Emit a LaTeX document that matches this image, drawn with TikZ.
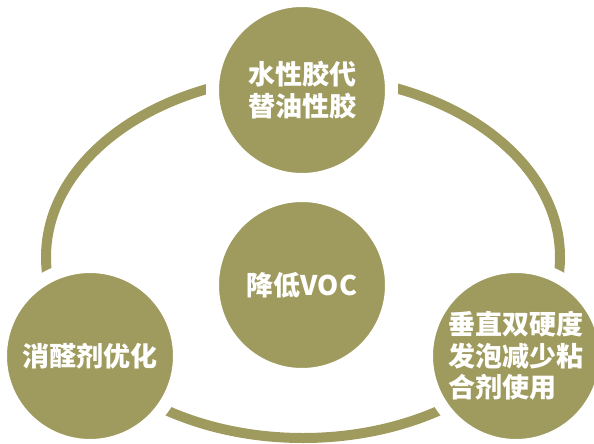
\documentclass[tikz,border=0pt]{standalone}
\usepackage{fontspec}
\newfontfamily\cjk{Noto Sans CJK SC}
\definecolor{olivec}{HTML}{9F9B5F}
\begin{document}
\begin{tikzpicture}[x=1pt,y=-1pt,
  bubble/.style={circle, fill=olivec, draw=white, line width=13pt, minimum size=179pt, inner sep=0pt,
    text=white, font=\cjk\bfseries\fontsize{27}{31.5}\selectfont},
  ring/.style={draw=olivec, line width=10pt}]
\useasboundingbox (0,0) rectangle (594,444);
\draw[ring] (303,257) ellipse [x radius=257, y radius=181];
\node[bubble, align=center] (top) at (302,90) {水性胶代\\替油性胶};
\node[bubble] (center) at (302,285) {降低VOC};
\node[bubble] (left) at (90,356) {消醛剂优化};
\node[bubble, align=left] (right) at (516,356) {垂直双硬度\\发泡减少粘\\合剂使用};
\end{tikzpicture}
\end{document}
